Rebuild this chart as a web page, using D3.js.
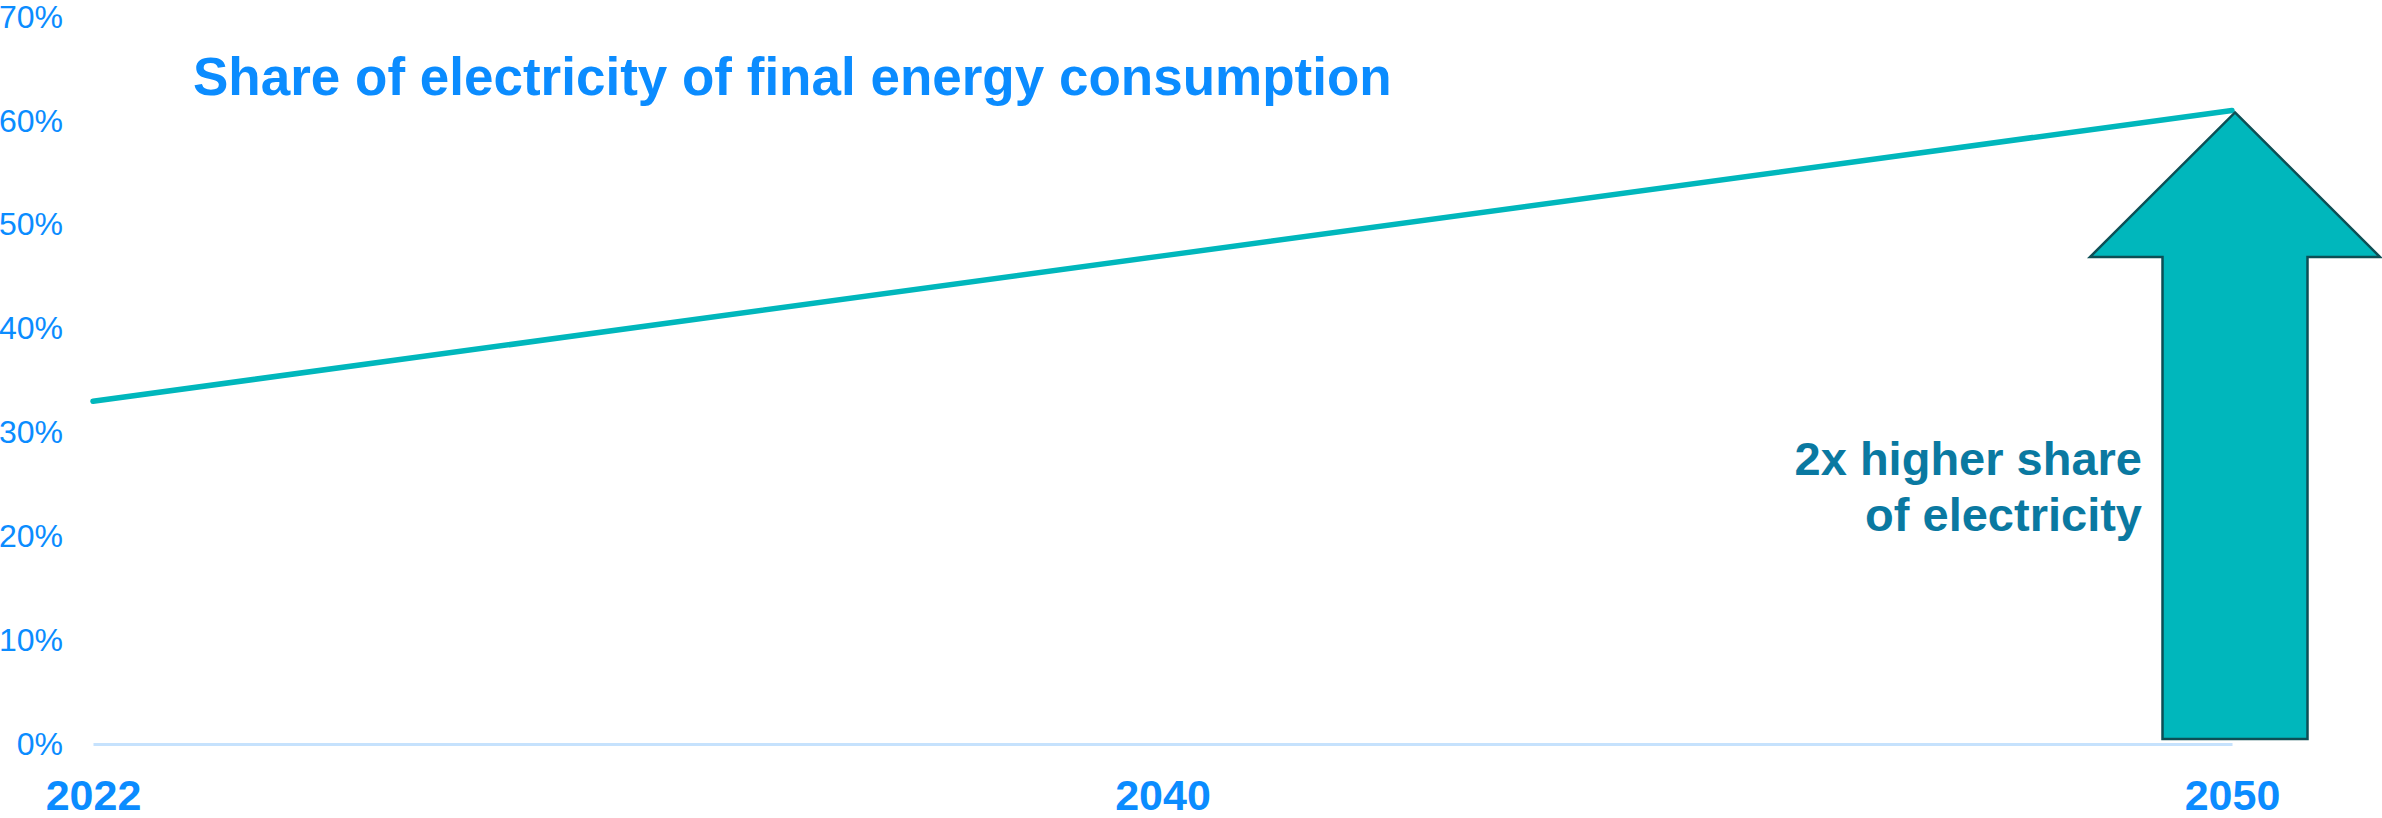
<!DOCTYPE html>
<html>
<head>
<meta charset="utf-8">
<script src="https://cdn.jsdelivr.net/npm/d3@7"></script>
<style>
  body { margin: 0; background: #fff; }
  svg { display: block; font-family: "Liberation Sans", Arial, sans-serif; }
</style>
</head>
<body>
<svg></svg>
<script>
const years = ['2022', '2040', '2050'];
const shareValues = [33, 47, 61];
const yTicks = [0, 10, 20, 30, 40, 50, 60, 70];
const titleText = 'Share of electricity of final energy consumption';
const noteLines = ['2x higher share', 'of electricity'];

let width = 2382;
let height = 818;
let blue = '#0b8cff';
let teal = '#00b7bc';

let svg = d3.select('svg')
            .attr('width', width)
            .attr('height', height);

svg.append('rect')
    .attr('width', width)
    .attr('height', height)
    .attr('fill', '#fff');

let xScale = d3.scalePoint()
                .domain(years)
                .range([93, 2232]);

let yScale = d3.scaleLinear()
                .domain([0, 70])
                .range([744, 17]);

// y axis, labels only
let yAxis = d3.axisLeft(yScale)
              .tickValues(yTicks)
              .tickSize(0)
              .tickPadding(30)
              .tickFormat(d => d + '%');

let yG = svg.append('g')
    .attr('transform', `translate(93,0)`)
    .call(yAxis);
yG.select('.domain').remove();
yG.selectAll('text')
    .attr('fill', blue)
    .style('font-size', '32px')
    .style('font-family', '"Liberation Sans", Arial, sans-serif');

// x axis with light baseline
let xAxis = d3.axisBottom(xScale)
              .tickSize(0)
              .tickSizeOuter(0);

let xG = svg.append('g')
    .attr('transform', `translate(0,${yScale(0)})`)
    .call(xAxis);
xG.select('.domain')
    .attr('stroke', '#c6e2fd')
    .attr('stroke-width', 3);
xG.selectAll('text')
    .attr('y', 66)
    .attr('dy', 0)
    .attr('fill', blue)
    .style('font-size', '43px')
    .style('font-weight', 'bold')
    .style('font-family', '"Liberation Sans", Arial, sans-serif');

// the line
let line = d3.line()
             .x((d, i) => xScale(years[i]))
             .y(d => yScale(d));

svg.append('path')
    .datum(shareValues)
    .attr('d', line)
    .attr('fill', 'none')
    .attr('stroke', teal)
    .attr('stroke-width', 5.5)
    .attr('stroke-linecap', 'round');

// up arrow at 2050
let last = shareValues[shareValues.length - 1];
let ax = xScale('2050') + 3;
let tipY = yScale(last) + 2;
let headY = 257;
let bottomY = yScale(0) - 5;
let headHalf = 145;
let shaftHalf = 72.5;

let arrowPts = [
  [ax, tipY],
  [ax + headHalf, headY],
  [ax + shaftHalf, headY],
  [ax + shaftHalf, bottomY],
  [ax - shaftHalf, bottomY],
  [ax - shaftHalf, headY],
  [ax - headHalf, headY]
];

svg.append('path')
    .attr('d', d3.line()(arrowPts) + 'Z')
    .attr('fill', teal)
    .attr('stroke', '#0d4f55')
    .attr('stroke-width', 2.5)
    .attr('stroke-linejoin', 'miter');

// title
svg.append('text')
    .attr('x', 193)
    .attr('y', 95)
    .attr('fill', blue)
    .style('font-size', '53px')
    .style('font-weight', 'bold')
    .text(titleText);

// note next to the arrow
svg.append('text')
    .attr('text-anchor', 'end')
    .attr('fill', '#0a79a1')
    .style('font-size', '47px')
    .style('font-weight', 'bold')
    .selectAll('tspan')
    .data(noteLines)
    .enter()
    .append('tspan')
    .attr('x', 2142)
    .attr('y', (d, i) => 475 + i * 56)
    .text(d => d);
</script>
</body>
</html>
